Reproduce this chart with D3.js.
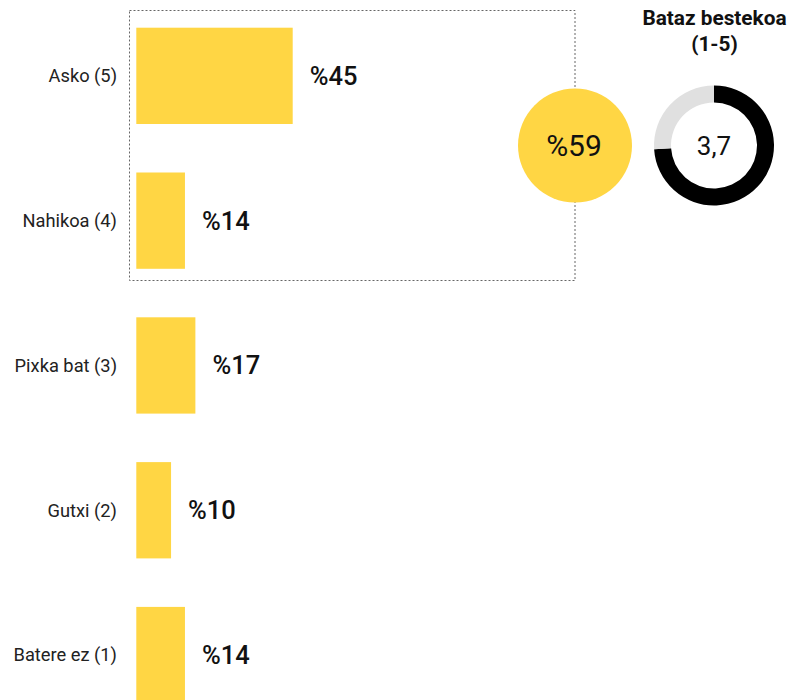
<!DOCTYPE html>
<html>
  <head>
    <meta charset="utf-8" />
    <script src="https://d3js.org/d3.v7.min.js"></script>
    <style>
      body { margin: 0; background: #fff; }
      svg { display: block; font-family: Roboto, "Noto Sans", sans-serif; }
    </style>
  </head>
  <body>
    <svg></svg>
    <script>
      // data
      var categories = ["Asko (5)", "Nahikoa (4)", "Pixka bat (3)", "Gutxi (2)", "Batere ez (1)"];
      var percents = [45, 14, 17, 10, 14];
      var topShare = 59; // Asko + Nahikoa
      var average = 3.7;
      var scaleMax = 5;
      var avgTitle = ["Bataz bestekoa", "(1-5)"];

      var yellow = "#FFD644";

      var svg = d3.select("svg").attr("width", 792).attr("height", 700);

      // scales
      var x = d3.scaleLinear().domain([0, 45]).range([136.3, 292.7]);
      var y = d3
        .scaleBand()
        .domain(categories)
        .range([27.7, 703.2])
        .paddingInner(0.335)
        .paddingOuter(0);

      // dashed box round the top two answers
      svg
        .append("rect")
        .attr("x", 129.5)
        .attr("y", 10.5)
        .attr("width", 445.5)
        .attr("height", 270)
        .attr("fill", "none")
        .attr("stroke", "#666")
        .attr("stroke-width", 1)
        .attr("stroke-dasharray", "2,2");

      var rows = svg
        .selectAll("g.row")
        .data(categories)
        .enter()
        .append("g")
        .attr("class", "row");

      // bars
      rows
        .append("rect")
        .attr("x", x(0))
        .attr("y", function (d) { return y(d); })
        .attr("width", function (d, i) { return x(percents[i]) - x(0); })
        .attr("height", y.bandwidth())
        .attr("fill", yellow);

      // category labels
      rows
        .append("text")
        .attr("x", 117)
        .attr("y", function (d) { return y(d) + y.bandwidth() / 2; })
        .attr("dy", "0.35em")
        .attr("text-anchor", "end")
        .attr("font-size", 18.3)
        .attr("fill", "#222")
        .text(function (d) { return d; });

      // value labels
      rows
        .append("text")
        .attr("x", function (d, i) { return x(percents[i]) + 17; })
        .attr("y", function (d) { return y(d) + y.bandwidth() / 2; })
        .attr("dy", "0.35em")
        .attr("font-size", 25.5)
        .attr("font-weight", 500)
        .attr("fill", "#111")
        .text(function (d, i) { return "%" + percents[i]; });

      // yellow circle with combined share
      svg
        .append("circle")
        .attr("cx", 575)
        .attr("cy", 145.5)
        .attr("r", 57)
        .attr("fill", yellow);

      svg
        .append("text")
        .attr("x", 574)
        .attr("y", 145.5)
        .attr("dy", "0.35em")
        .attr("text-anchor", "middle")
        .attr("font-size", 30)
        .attr("fill", "#111")
        .text("%" + topShare);

      // average donut
      var donut = svg.append("g").attr("transform", "translate(714,145.5)");
      var arc = d3.arc().innerRadius(43).outerRadius(60);
      var pie = d3.pie().sort(null).value(function (d) { return d; });
      donut
        .selectAll("path")
        .data(pie([average, scaleMax - average]))
        .enter()
        .append("path")
        .attr("d", arc)
        .attr("fill", function (d, i) { return i == 0 ? "#000" : "#e0e0e0"; });

      donut
        .append("text")
        .attr("dy", "0.35em")
        .attr("text-anchor", "middle")
        .attr("font-size", 26)
        .attr("fill", "#111")
        .text(String(average).replace(".", ","));

      // donut title
      svg
        .append("g")
        .selectAll("text")
        .data(avgTitle)
        .enter()
        .append("text")
        .attr("x", 714.5)
        .attr("y", function (d, i) { return 25 + i * 26; })
        .attr("text-anchor", "middle")
        .attr("font-size", 20.8)
        .attr("font-weight", 700)
        .attr("fill", "#111")
        .text(function (d) { return d; });
    </script>
  </body>
</html>
